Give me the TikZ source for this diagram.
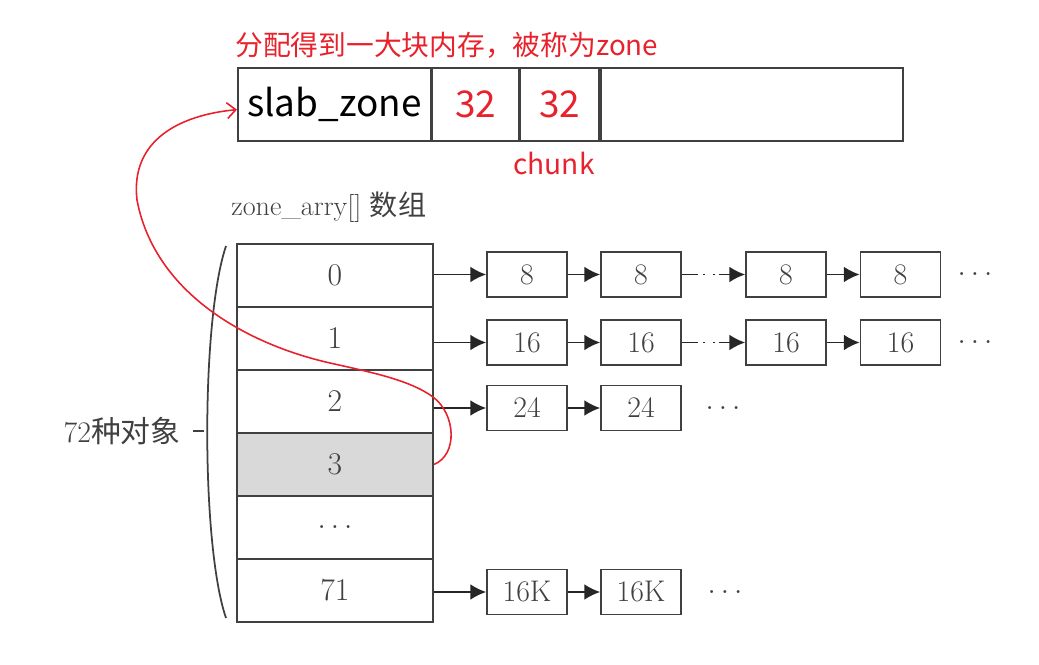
\documentclass[tikz,border=0pt]{standalone}
\usepackage{fontspec}
\newfontfamily\cjk{Noto Sans CJK SC}
\usetikzlibrary{arrows.meta}
\definecolor{zred}{RGB}{232,34,44}
\definecolor{lgray}{RGB}{64,64,64}
\definecolor{cellfill}{RGB}{217,217,217}
\tikzset{
  zcell/.style={draw=lgray,line width=1pt,minimum height=1.46cm,inner sep=0pt,anchor=north west,font=\cjk\fontsize{21}{24}\selectfont},
  acell/.style={draw=lgray,line width=1.1pt,minimum width=3.92cm,minimum height=1.26cm,inner sep=0pt,anchor=north west,font=\fontsize{18}{20}\selectfont,text=lgray},
  lbox/.style={draw=lgray,line width=1pt,minimum width=1.6cm,minimum height=0.9cm,inner sep=0pt,font=\fontsize{17}{20}\selectfont,text=lgray},
  more/.style={font=\fontsize{17}{20}\selectfont,text=lgray,inner sep=0pt},
  link/.style={line width=1pt,draw=black!85,-{Latex[length=9pt,width=9pt]}}
}
\begin{document}
\begin{tikzpicture}[x=0.02cm,y=-0.02cm]
  \useasboundingbox (0,0) rectangle (1039,665);
  \node[anchor=west,inner sep=0pt,text=zred,font=\cjk\fontsize{15.8}{18}\selectfont] (title) at (235,45) {分配得到一大块内存，被称为zone};
  \node[zcell,minimum width=3.86cm] (slab) at (237,67) {slab\_zone};
  \node[zcell,minimum width=1.72cm,text=zred] (c1) at (slab.north east) {32};
  \node[zcell,minimum width=1.58cm,text=zred] (c2) at (c1.north east) {32};
  \node[zcell,minimum width=6.04cm] (rest) at (c2.north east) {};
  \node[text=zred,font=\cjk\fontsize{16}{18}\selectfont] (chunk) at (554,163) {chunk};
  \node[anchor=west,inner sep=0pt,text=lgray,font=\fontsize{16}{18}\selectfont] (arrname) at (231,207) {zone\_arry[] {\cjk 数组}};
  \foreach \lab/\fc [count=\i from 0] in {0/white,1/white,2/white,3/cellfill,$\ldots$/white,71/white}
    \node[acell,fill=\fc] (r\i) at (236,243+63*\i) {\lab};
  \draw[lgray,line width=1pt] (226,246) .. controls (201,320) and (201,545) .. (226,618);
  \node[anchor=east,inner sep=0pt,text=lgray,font=\fontsize{17}{20}\selectfont] (objs) at (181,431) {72{\cjk 种对象}};
  \draw[lgray,line width=1pt] (objs.east) ++(12,0) -- ++(11,0);
  \foreach \r/\v/\y in {0/8/274.5,1/16/342.5}{
    \node[lbox] (p\r) at (527,\y) {\v};
    \node[lbox] (q\r) at (641,\y) {\v};
    \node[lbox] (s\r) at (786,\y) {\v};
    \node[lbox] (t\r) at (900.5,\y) {\v};
    \node[more] (m\r) at (975,\y) {$\ldots$};
    \draw[link] (r\r.east |- p\r.west) -- (p\r);
    \draw[link] (p\r) -- (q\r);
    \draw[line width=1pt,black!85] (q\r.east) -- ++(16,0) coordinate (g\r);
    \draw[line width=1pt,black!85,dash pattern=on 1pt off 5pt] (g\r) ++(5,0) -- ++(16,0) coordinate (h\r);
    \draw[link] (h\r) -- (s\r);
    \draw[link] (s\r) -- (t\r);
  }
  \foreach \r/\v/\y/\d in {2/24/408/723,5/16K/592/725}{
    \node[lbox] (p\r) at (527,\y) {\v};
    \node[lbox] (q\r) at (641,\y) {\v};
    \node[more] (m\r) at (\d,\y) {$\ldots$};
    \draw[link] (r\r.east |- p\r.west) -- (p\r);
    \draw[link] (p\r) -- (q\r);
  }
  \draw[zred,line width=0.9pt,-{Straight Barb[length=5pt,width=9pt]}] (r3.east)
    .. controls (458,455) and (456,414) .. (433,397)
    .. controls (410,380) and (370,372) .. (330,363)
    .. controls (250,345) and (155,295) .. (137,200)
    .. controls (130,140) and (180,115) .. ([yshift=-3pt]slab.west);
\end{tikzpicture}
\end{document}
